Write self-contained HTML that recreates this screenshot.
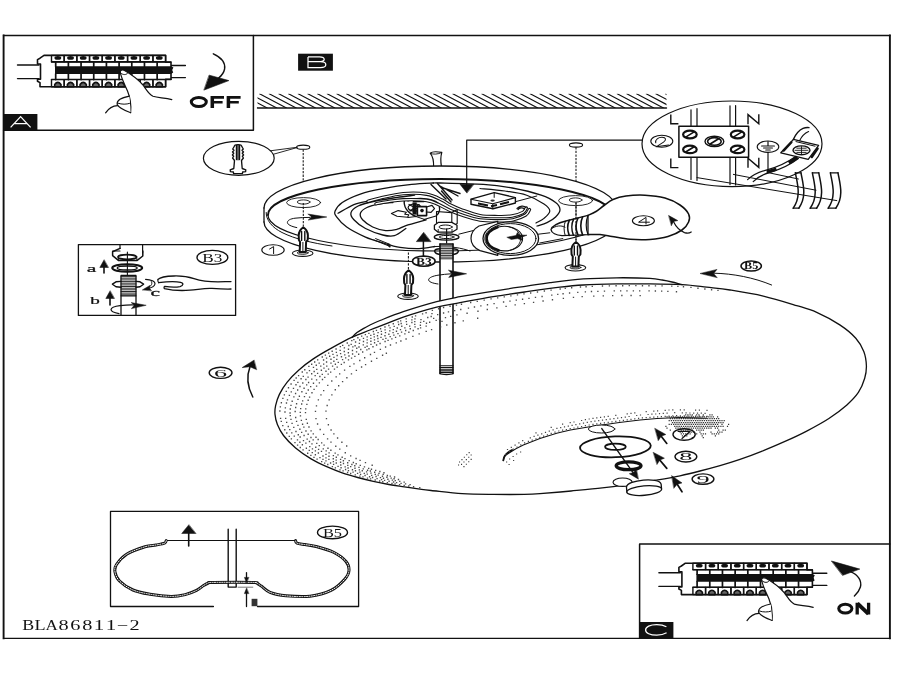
<!DOCTYPE html>
<html><head><meta charset="utf-8"><title>BLA86811-2</title>
<style>
html,body{margin:0;padding:0;background:#fff;}
body{width:900px;height:675px;overflow:hidden;font-family:"Liberation Sans",sans-serif;}
svg{display:block;will-change:transform}
</style></head><body>
<svg width="900" height="675" viewBox="0 0 900 675" fill="none" stroke="#111" stroke-width="1" stroke-linecap="round" stroke-linejoin="round">
<rect x="0" y="0" width="900" height="675" fill="#fff" stroke="none"/>
<defs><g id="brk"><path d="M17.5 65H39M17.5 78.6H39M170 65.5H185.4M170 77.6H185.4" stroke-width="1.4"/><path d="M44 55.4H165.6V62.2H171V79.4H165.6V86.8H40V82.6L37.5 81.2V79.2H40.5V64H37.5V59.6L40 58.2Z" fill="#fff" stroke-width="1.6"/><path d="M55 66.2H171L173.4 67.4L172.2 70L173.2 72.6L171 74H55Z" fill="#111" stroke="none"/><rect x="51.50" y="55.4" width="12.68" height="6.4" stroke-width="1.4"/><ellipse cx="57.84" cy="57.9" rx="3.4" ry="1.9" fill="#111" stroke="none"/><rect x="51.50" y="79.6" width="12.68" height="7.2" stroke-width="1.4"/><path d="M54.70 86.8V84.4Q57.84 80.4 60.98 84.4V86.8Z" fill="#666" stroke="#111" stroke-width="1.6"/><path d="M55.70 62V66.4M55.70 73.8V79.6" stroke-width="1.7"/><rect x="64.18" y="55.4" width="12.68" height="6.4" stroke-width="1.4"/><ellipse cx="70.52" cy="57.9" rx="3.4" ry="1.9" fill="#111" stroke="none"/><rect x="64.18" y="79.6" width="12.68" height="7.2" stroke-width="1.4"/><path d="M67.38 86.8V84.4Q70.52 80.4 73.66 84.4V86.8Z" fill="#666" stroke="#111" stroke-width="1.6"/><path d="M68.38 62V66.4M68.38 73.8V79.6" stroke-width="1.7"/><rect x="76.86" y="55.4" width="12.68" height="6.4" stroke-width="1.4"/><ellipse cx="83.20" cy="57.9" rx="3.4" ry="1.9" fill="#111" stroke="none"/><rect x="76.86" y="79.6" width="12.68" height="7.2" stroke-width="1.4"/><path d="M80.06 86.8V84.4Q83.20 80.4 86.34 84.4V86.8Z" fill="#666" stroke="#111" stroke-width="1.6"/><path d="M81.06 62V66.4M81.06 73.8V79.6" stroke-width="1.7"/><rect x="89.54" y="55.4" width="12.68" height="6.4" stroke-width="1.4"/><ellipse cx="95.88" cy="57.9" rx="3.4" ry="1.9" fill="#111" stroke="none"/><rect x="89.54" y="79.6" width="12.68" height="7.2" stroke-width="1.4"/><path d="M92.74 86.8V84.4Q95.88 80.4 99.02 84.4V86.8Z" fill="#666" stroke="#111" stroke-width="1.6"/><path d="M93.74 62V66.4M93.74 73.8V79.6" stroke-width="1.7"/><rect x="102.22" y="55.4" width="12.68" height="6.4" stroke-width="1.4"/><ellipse cx="108.56" cy="57.9" rx="3.4" ry="1.9" fill="#111" stroke="none"/><rect x="102.22" y="79.6" width="12.68" height="7.2" stroke-width="1.4"/><path d="M105.42 86.8V84.4Q108.56 80.4 111.70 84.4V86.8Z" fill="#666" stroke="#111" stroke-width="1.6"/><path d="M106.42 62V66.4M106.42 73.8V79.6" stroke-width="1.7"/><rect x="114.90" y="55.4" width="12.68" height="6.4" stroke-width="1.4"/><ellipse cx="121.24" cy="57.9" rx="3.4" ry="1.9" fill="#111" stroke="none"/><rect x="114.90" y="79.6" width="12.68" height="7.2" stroke-width="1.4"/><path d="M118.10 86.8V84.4Q121.24 80.4 124.38 84.4V86.8Z" fill="#666" stroke="#111" stroke-width="1.6"/><path d="M119.10 62V66.4M119.10 73.8V79.6" stroke-width="1.7"/><rect x="127.58" y="55.4" width="12.68" height="6.4" stroke-width="1.4"/><ellipse cx="133.92" cy="57.9" rx="3.4" ry="1.9" fill="#111" stroke="none"/><rect x="127.58" y="79.6" width="12.68" height="7.2" stroke-width="1.4"/><path d="M130.78 86.8V84.4Q133.92 80.4 137.06 84.4V86.8Z" fill="#666" stroke="#111" stroke-width="1.6"/><path d="M131.78 62V66.4M131.78 73.8V79.6" stroke-width="1.7"/><rect x="140.26" y="55.4" width="12.68" height="6.4" stroke-width="1.4"/><ellipse cx="146.60" cy="57.9" rx="3.4" ry="1.9" fill="#111" stroke="none"/><rect x="140.26" y="79.6" width="12.68" height="7.2" stroke-width="1.4"/><path d="M143.46 86.8V84.4Q146.60 80.4 149.74 84.4V86.8Z" fill="#666" stroke="#111" stroke-width="1.6"/><path d="M144.46 62V66.4M144.46 73.8V79.6" stroke-width="1.7"/><rect x="152.94" y="55.4" width="12.68" height="6.4" stroke-width="1.4"/><ellipse cx="159.28" cy="57.9" rx="3.4" ry="1.9" fill="#111" stroke="none"/><rect x="152.94" y="79.6" width="12.68" height="7.2" stroke-width="1.4"/><path d="M156.14 86.8V84.4Q159.28 80.4 162.42 84.4V86.8Z" fill="#666" stroke="#111" stroke-width="1.6"/><path d="M157.14 62V66.4M157.14 73.8V79.6" stroke-width="1.7"/><path d="M51.5 62H171M51.5 79.4H171" stroke-width="1.4"/></g><g id="hand" stroke-width="1.2"><path d="M120.2 72.2C120 70 122.5 69.6 124.5 70.4C130 73.5 137 78 143 85C147 90.5 149 94.5 153 96.3C158 98 165 97.6 171.8 99.6L171 104L131 113C131.5 104 130 97 127.5 91C125 85 121.5 79 120.2 72.2Z" fill="#fff" stroke="none"/><path d="M120.2 72.2C120 70 122.5 69.6 124.5 70.4C130 73.5 137 78 143 85C147 90.5 149 94.5 153 96.3C158 98 165 97.6 171.8 99.6"/><path d="M120.2 72.2C121.5 79 125 85 127.5 91C130 97 131.5 104 130.6 112.6"/><path d="M121 73.2C123 75.2 126.5 75 127.6 73.2" stroke-width="1"/><path d="M130.6 112.6C125 110.5 119 108.5 117.2 104.5C116.5 100.5 121 97.8 129.4 96.2" fill="#fff"/><path d="M118 103.2C122 104.6 126.5 104.4 129.5 103.4" stroke-width="1"/><path d="M117.6 105.6C113 105.8 108.5 108.5 105.6 112.8"/></g></defs>
<path d="M3.6 35.5H889.9M3.6 638.3H889.9" stroke-width="1.35" stroke-linecap="square"/><path d="M3.6 35.5V638.3M889.9 35.5V638.3" stroke-width="1.9" stroke-linecap="square"/>
<path d="M3.6 130.2H253.4V35.5" stroke-width="1.5"/>
<rect x="3.6" y="114" width="33.8" height="16.2" fill="#111" stroke="none"/>
<path d="M10.6 127.4L20.6 116.6L30.6 127.4M14.4 123.5H26.8" stroke="#fff" stroke-width="1.25" stroke-linecap="butt" stroke-linejoin="miter"/>
<use href="#brk"/><use href="#hand"/>
<path d="M213.3 53.8C221.5 57.5 225.6 63 224.6 69C223.8 73 221.5 75.8 218.6 78" stroke-width="1.4"/>
<path d="M209.4 75.2L228.9 80.6L204.2 90Z" fill="#111" stroke="#111" stroke-width="0.6"/>
<g stroke-linecap="butt" stroke-linejoin="miter"><ellipse cx="198.8" cy="101.95" rx="7.5" ry="4.55" stroke-width="3"/><path d="M212.3 107.9V96.1M228.4 107.9V96.1" stroke-width="3.5"/><path d="M212.3 97.4H224M228.4 97.4H240.6" stroke-width="2.6"/><path d="M212.3 102.2H222.6M228.4 102.2H238.8" stroke-width="2.5"/></g>
<path d="M639.6 638.3V543.9H889.9" stroke-width="1.5"/>
<rect x="639.6" y="622" width="33.8" height="16.3" fill="#111" stroke="none"/>
<path d="M666.4 626.8C663.6 625.2 660.4 624.6 656.8 624.6C650 624.6 645.6 626.8 645.6 629.9C645.6 633 650 635.2 656.8 635.2C660.6 635.2 663.8 634.5 666.6 632.8" stroke="#fff" stroke-width="1.25" stroke-linecap="butt"/>
<g transform="translate(641.4 507.8)"><use href="#brk"/><use href="#hand"/></g>
<path d="M850.5 571.6C858.5 575 862 581 860.4 587C859.4 590.6 857 593.6 854.4 596" stroke-width="1.4"/>
<path d="M831.7 561.1L859.8 569.1L842.8 575.3Z" fill="#111" stroke="#111" stroke-width="0.6"/>
<g stroke-linecap="butt" stroke-linejoin="miter"><ellipse cx="845.3" cy="608.6" rx="6.6" ry="4.45" stroke-width="3"/><path d="M857.2 614.5V602.8M868.6 614.5V602.8" stroke-width="3.3"/><path d="M857.4 603.4L868.4 613.9" stroke-width="4"/></g>
<rect x="298.1" y="53.7" width="34.8" height="17" fill="#111" stroke="none"/>
<path d="M308 56.9V67.5H320.4C327.6 67.5 327.6 61.8 320.4 61.7H308M320.4 61.7C325.6 61.5 325.6 56.9 319.6 56.9H308" stroke="#fff" stroke-width="1.25" stroke-linecap="butt" stroke-linejoin="miter"/>
<g stroke-width="1.15"><path d="M257.5 108H666.5" stroke-width="1.35"/><clipPath id="hc"><rect x="257.5" y="93.8" width="409" height="14.2"/></clipPath><g clip-path="url(#hc)"><path d="M230.5 93.8L257.5 108M240.2 93.8L267.2 108M249.8 93.8L276.8 108M259.5 93.8L286.5 108M269.2 93.8L296.2 108M278.8 93.8L305.8 108M288.5 93.8L315.5 108M298.2 93.8L325.2 108M307.8 93.8L334.8 108M317.5 93.8L344.5 108M327.2 93.8L354.2 108M336.8 93.8L363.8 108M346.5 93.8L373.5 108M356.2 93.8L383.2 108M365.8 93.8L392.8 108M375.5 93.8L402.5 108M385.2 93.8L412.2 108M394.8 93.8L421.8 108M404.5 93.8L431.5 108M414.2 93.8L441.2 108M423.8 93.8L450.8 108M433.5 93.8L460.5 108M443.2 93.8L470.2 108M452.8 93.8L479.8 108M462.5 93.8L489.5 108M472.2 93.8L499.2 108M481.8 93.8L508.8 108M491.5 93.8L518.5 108M501.2 93.8L528.2 108M510.8 93.8L537.8 108M520.5 93.8L547.5 108M530.2 93.8L557.2 108M539.8 93.8L566.8 108M549.5 93.8L576.5 108M559.2 93.8L586.2 108M568.8 93.8L595.8 108M578.5 93.8L605.5 108M588.2 93.8L615.2 108M597.8 93.8L624.8 108M607.5 93.8L634.5 108M617.2 93.8L644.2 108M626.8 93.8L653.8 108M636.5 93.8L663.5 108M646.2 93.8L673.2 108M655.8 93.8L682.8 108M665.5 93.8L692.5 108"/></g></g>
<text transform="translate(28.11 630) scale(1.28 1)" x="0" y="0" font-family="Liberation Serif" font-size="14" fill="#111" stroke="none" text-anchor="middle">B</text>
<text transform="translate(39.95 630) scale(1.30 1)" x="0" y="0" font-family="Liberation Serif" font-size="14" fill="#111" stroke="none" text-anchor="middle">L</text>
<text transform="translate(51.77 630) scale(1.22 1)" x="0" y="0" font-family="Liberation Serif" font-size="14" fill="#111" stroke="none" text-anchor="middle">A</text>
<text transform="translate(63.61 630) scale(1.45 1)" x="0" y="0" font-family="Liberation Serif" font-size="14" fill="#111" stroke="none" text-anchor="middle">8</text>
<text transform="translate(75.44 630) scale(1.45 1)" x="0" y="0" font-family="Liberation Serif" font-size="14" fill="#111" stroke="none" text-anchor="middle">6</text>
<text transform="translate(87.27 630) scale(1.45 1)" x="0" y="0" font-family="Liberation Serif" font-size="14" fill="#111" stroke="none" text-anchor="middle">8</text>
<text transform="translate(99.09 630) scale(1.50 1)" x="0" y="0" font-family="Liberation Serif" font-size="14" fill="#111" stroke="none" text-anchor="middle">1</text>
<text transform="translate(110.92 630) scale(1.50 1)" x="0" y="0" font-family="Liberation Serif" font-size="14" fill="#111" stroke="none" text-anchor="middle">1</text>
<text transform="translate(122.76 630) scale(1.45 1)" x="0" y="0" font-family="Liberation Serif" font-size="14" fill="#111" stroke="none" text-anchor="middle">−</text>
<text transform="translate(134.59 630) scale(1.45 1)" x="0" y="0" font-family="Liberation Serif" font-size="14" fill="#111" stroke="none" text-anchor="middle">2</text>
<ellipse cx="238.8" cy="158.3" rx="35.4" ry="17" stroke-width="1.2"/>
<path d="M270.3 150.8L297 147.3M273.6 154.2L297 147.6" stroke-width="0.9"/>
<g stroke-width="1.35"><path d="M234.2 146.5C234.5 144 241.5 144 241.8 146.5L243.3 149L242 150.2L243.5 152L242.2 153.2L243.6 155L242.3 156.2L243.4 158L241.5 160.5L242.2 168.5L245.8 169.8L245.6 171.6L242.6 172L242.4 173.6H233.6L233.4 172L230.4 171.6L230.2 169.8L233.8 168.5L234.5 160.5L232.6 158L233.7 156.2L232.4 155L233.8 153.2L232.5 152L234 150.2L232.7 149Z" fill="#fff"/><path d="M236.6 145.5V159.5M239.4 145.5V159.5" stroke-width="1.6"/><path d="M238 145V160" stroke-width="1"/></g>
<ellipse cx="303.2" cy="147.2" rx="6.6" ry="2.1" stroke-width="1.1"/>
<path d="M303.2 149.4V181.0" stroke-width="1.05" stroke-dasharray="2.3 1.3" stroke-linecap="butt"/>
<ellipse cx="576.0" cy="145.0" rx="6.6" ry="2.1" stroke-width="1.1"/>
<path d="M576.0 147.2V181.0" stroke-width="1.05" stroke-dasharray="2.3 1.3" stroke-linecap="butt"/>
<path d="M433.6 167C433.8 161 433 156.5 430.2 153.2C432 151.6 436.5 151.4 441.8 152.4C440.6 156.5 440.6 161.5 441.4 166.4" fill="#fff" stroke-width="1.2"/>
<path d="M430.4 153.4C433 154.6 438 154.4 441.6 152.6" stroke-width="0.9"/>
<path d="M264 208A176 42 0 0 1 616 208L616 222A176 40 0 0 1 264 222Z" fill="#fff" stroke="none"/>
<path d="M264 208A176 42 0 0 1 616 208" stroke-width="1.3"/>
<path d="M264 208V222" stroke-width="1.3"/>
<path d="M264 222A176 40 0 0 0 616 222" stroke-width="1.3"/>
<path d="M266.2 212.5C266 220 272 227.5 282 232.5C295 239 312 243 332 246" stroke-width="1"/>
<path d="M268 215A172 36 0 0 1 612 215" stroke-width="1.9"/>
<path d="M268 215A172 36 0 0 0 612 215" stroke-width="1.1"/>
<ellipse cx="303.6" cy="202.6" rx="17" ry="5" fill="#fff" stroke-width="0.9"/>
<ellipse cx="303.6" cy="202.0" rx="6.4" ry="2.1" stroke-width="0.9"/>
<ellipse cx="575.6" cy="200.6" rx="17" ry="5" fill="#fff" stroke-width="0.9"/>
<ellipse cx="575.6" cy="200.0" rx="6.4" ry="2.1" stroke-width="0.9"/>
<path d="M433.4 183.0 C429.8 183.2 420.1 183.5 411.7 184.4 C403.3 185.3 391.2 187.1 382.8 188.7 C374.4 190.3 367.8 191.5 361.0 193.8 C354.2 196.1 346.6 199.6 342.3 202.5 C338.0 205.4 336.1 208.7 335.1 211.1 C334.2 213.5 334.7 214.2 336.6 216.9 C338.5 219.6 341.9 223.6 346.7 227.0 C351.5 230.4 359.5 234.4 365.5 237.1 C371.5 239.8 377.1 241.2 382.8 242.9 C388.6 244.6 394.0 246.3 400.0 247.3 C406.0 248.3 413.2 248.8 419.0 248.7 C424.8 248.6 432.2 246.9 434.8 246.5" stroke-width="1.3"/>
<path d="M433.4 183.0 C434.5 183.0 431.7 182.8 440.0 183.0 C448.3 183.2 471.3 183.6 483.4 184.4 C495.4 185.2 502.7 186.2 512.3 188.0 C521.9 189.8 534.0 192.8 541.2 195.2 C548.4 197.6 552.5 200.1 555.6 202.5 C558.7 204.9 560.0 207.3 560.0 209.7 C560.0 212.1 557.8 214.8 555.6 217.0 C553.4 219.2 550.1 221.2 547.0 222.7 C543.9 224.2 538.7 225.4 537.0 226.0" stroke-width="1.3"/>
<path d="M368.0 201.0 C365.6 201.6 358.9 202.5 353.9 204.6 C348.9 206.7 340.6 211.9 338.0 213.3" stroke-width="1.2"/>
<path d="M414.6 195.2 C411.7 195.6 403.8 196.4 397.3 197.4 C390.8 198.4 382.1 199.6 375.6 201.0 C369.1 202.4 362.3 204.1 358.2 206.0 C354.1 207.9 351.7 210.3 351.0 212.6 C350.3 214.9 351.5 217.2 353.9 219.8 C356.3 222.5 360.7 226.0 365.5 228.5 C370.3 231.0 378.0 233.8 382.8 235.0 C387.6 236.2 390.5 236.8 394.4 235.7 C398.2 234.6 404.0 229.7 405.9 228.5" stroke-width="1.3"/>
<path d="M392.9 202.5 C390.7 202.7 384.2 203.1 379.9 203.9 C375.6 204.7 370.1 205.9 366.9 207.5 C363.6 209.1 361.1 211.2 360.4 213.3 C359.7 215.4 360.6 217.5 362.6 219.8 C364.7 222.1 368.9 225.2 372.7 227.0 C376.5 228.8 381.6 230.2 385.7 230.6 C389.8 231.0 393.9 230.0 397.3 229.2 C400.7 228.4 401.1 227.2 405.9 225.6 C410.7 224.0 422.8 220.8 426.2 219.8" stroke-width="1.3"/>
<path d="M480.0 188.5 C484.2 188.9 497.2 189.9 505.0 191.0 C512.8 192.1 520.2 193.0 526.7 195.2 C533.2 197.4 540.1 201.4 544.0 204.0 C547.9 206.6 549.8 208.6 549.8 211.0 C549.8 213.4 546.3 216.4 544.0 218.4 C541.7 220.4 537.3 222.2 536.0 223.0" stroke-width="1.2"/>
<path d="M374 240L388.4 245.8M375.6 238.6L390 244.4" stroke-width="1"/><path d="M388 244.4L389.8 246.6" stroke-width="1.8"/>
<path d="M434.8 246.5C450 246 462 248 470 251" stroke-width="1"/>
<g stroke-width="1.1"><path d="M391.4 213.6L398.2 210.6L406.4 212.2L404.8 214.2L408.8 214.8L407.6 217.2L397 216.2Z" fill="#fff"/><path d="M404.5 199.5C403 206 407 213 416 216.5" stroke-width="1.4"/><path d="M408 201C416 197 432 198 438 203C441 207 440 213 436 216L424 219.5" stroke-width="1.3"/><ellipse cx="414.6" cy="207.6" rx="6.5" ry="3.6" stroke-width="1.2"/><path d="M409 204.5L420 210.5M410 211L419 204.5" stroke-width="1.2"/><path d="M414.6 202.4V214.6" stroke-width="4.2" stroke-linecap="butt"/><rect x="417.4" y="206.6" width="9.2" height="9" fill="#fff" stroke-width="1.6"/><circle cx="422" cy="210.6" r="1.8" fill="#111" stroke="none"/><path d="M426.4 207L432 205.4L434.5 208.6L431 212.4L426.4 212" stroke-width="1.2"/><path d="M413.5 199.2H417M420 199.2H424M413.5 201.4H424" stroke-width="1.6"/><path d="M408 217.5L416 216.5L425 219.6" stroke-width="1"/></g>
<g><path d="M376.0 203.8 C378.0 203.4 383.4 202.3 388.0 201.6 C392.6 200.9 396.9 200.0 403.3 199.8 C409.8 199.6 420.9 199.7 426.7 200.5 C432.5 201.3 434.4 202.8 438.3 204.4 C442.2 206.1 445.9 208.6 450.0 210.4 C454.1 212.2 458.0 213.8 463.0 215.4 C468.0 217.0 474.2 219.1 480.0 220.0 C485.8 220.9 492.5 220.8 498.0 220.8 C503.5 220.8 508.4 220.8 513.0 219.8 C517.6 218.8 522.9 216.7 525.6 215.0 C528.3 213.3 528.8 210.5 529.4 209.6" stroke="#111" stroke-width="3.4"/><path d="M376.0 203.8 C378.0 203.4 383.4 202.3 388.0 201.6 C392.6 200.9 396.9 200.0 403.3 199.8 C409.8 199.6 420.9 199.7 426.7 200.5 C432.5 201.3 434.4 202.8 438.3 204.4 C442.2 206.1 445.9 208.6 450.0 210.4 C454.1 212.2 458.0 213.8 463.0 215.4 C468.0 217.0 474.2 219.1 480.0 220.0 C485.8 220.9 492.5 220.8 498.0 220.8 C503.5 220.8 508.4 220.8 513.0 219.8 C517.6 218.8 522.9 216.7 525.6 215.0 C528.3 213.3 528.8 210.5 529.4 209.6" stroke="#fff" stroke-width="1.3"/><path d="M368.0 201.4 C370.0 200.8 374.0 199.4 379.9 198.1 C385.8 196.8 395.5 194.2 403.3 193.6 C411.1 192.9 420.2 193.1 426.7 194.2 C433.2 195.3 438.3 198.3 442.2 200.1 C446.1 201.9 446.7 203.2 450.0 204.8 C453.3 206.5 457.0 208.2 462.0 210.0 C467.0 211.8 474.0 214.5 480.0 215.6 C486.0 216.7 492.7 216.5 498.0 216.6 C503.3 216.7 507.8 216.7 512.0 216.0 C516.2 215.3 520.6 213.7 523.0 212.4 C525.4 211.1 525.7 208.7 526.2 208.0" stroke="#111" stroke-width="3.4"/><path d="M368.0 201.4 C370.0 200.8 374.0 199.4 379.9 198.1 C385.8 196.8 395.5 194.2 403.3 193.6 C411.1 192.9 420.2 193.1 426.7 194.2 C433.2 195.3 438.3 198.3 442.2 200.1 C446.1 201.9 446.7 203.2 450.0 204.8 C453.3 206.5 457.0 208.2 462.0 210.0 C467.0 211.8 474.0 214.5 480.0 215.6 C486.0 216.7 492.7 216.5 498.0 216.6 C503.3 216.7 507.8 216.7 512.0 216.0 C516.2 215.3 520.6 213.7 523.0 212.4 C525.4 211.1 525.7 208.7 526.2 208.0" stroke="#fff" stroke-width="1.3"/><path d="M526 207.5C524 205.5 520 205.5 517 208.5M524.6 209C522.5 207.2 519.5 207.6 518 209.6" stroke-width="1.2"/><path d="M431 184.5L446 199M437.5 183.5L452 200M440 186L458 196M443 188L460 193.5M441.5 191L451 202" stroke-width="1.4"/></g>
<g stroke-width="1.2"><path d="M471 199.2L494.2 192.6L515.4 197.6V203L493 208.8L471 204.2Z" fill="#fff" stroke-width="1.4"/><path d="M471 199.2L492.8 203.8L515.4 197.6M492.8 203.8V208.6" stroke-width="1.1"/><path d="M494.2 192.6V197.4" stroke-width="1"/><path d="M478 203.4L488 205.6M491 206.2L497 205M500 204.2L509 202" stroke-width="2" stroke-linecap="butt"/><ellipse cx="492.6" cy="200.6" rx="2.2" ry="1.1" fill="#333" stroke="none"/><path d="M515.4 201.7L536.8 196" stroke-width="1"/></g>
<path d="M642.5 140.2H466.7V186" stroke-width="1.2"/>
<path d="M466.7 192.8L460 184.2H473.6Z" fill="#111" stroke="#111" stroke-width="0.6"/>
<g stroke-width="1.2"><path d="M497.8 221.4L479 226C473.5 229 471 233.5 471 238.6C471 243.5 474 248 480 250.6L497.8 255.4Z" fill="#fff"/><ellipse cx="510.8" cy="238.6" rx="27.8" ry="16.8" fill="#fff" stroke-width="1.3"/><ellipse cx="510.4" cy="238.6" rx="25.6" ry="15" stroke-width="1"/><ellipse cx="504.6" cy="238.6" rx="18" ry="12.3" stroke-width="1.1"/><path d="M497.5 227.3C489.5 230 486.6 235 486.6 238.8C486.8 243.5 490.5 248 498.5 250.2" stroke-width="2.6"/><path d="M509 226.8C517.5 229 521 234 520.6 239.5C520 244.5 516 248.6 510 250.4" stroke-width="0.9"/><path d="M538.3 234.2L549.8 232.8M539.7 243L562.8 238.6" stroke-width="1"/><path d="M458.8 234.2L473 230.6" stroke-width="1"/><path d="M507.2 237.2L516 235.4L517.4 232.4L519.4 235L527 235.2L521 237.4L522.4 240.4L517.6 238.6L511.4 239.4Z" fill="#111" stroke="#111" stroke-width="0.5"/></g>
<g stroke-width="1.2"><path d="M436.5 211.5V222.5M436.5 211.5L451.6 212.6L457.2 209.6V223.5L451.8 226.4V212.6" stroke-width="1.1"/><path d="M434.4 225.2L438.2 222.4H451.8L457 225.2V229.2L452 232.2H438.2L434.4 229.2Z" fill="#fff" stroke-width="1.3"/><ellipse cx="445.6" cy="227" rx="6.6" ry="2" stroke-width="1"/><path d="M438.2 229.4V232M452 229.4V232" stroke-width="0.9"/><ellipse cx="446.6" cy="237" rx="12.4" ry="3.1" fill="#fff" stroke-width="1.4"/><ellipse cx="446.6" cy="237" rx="7.4" ry="1.6" stroke-width="1"/><path d="M446.6 229V243" stroke-width="1.2"/></g>
<path d="M423.4 256V240" stroke-width="1.5"/>
<path d="M423.5 232.6L416.4 241.6H430.6Z" fill="#111" stroke="#111" stroke-width="0.6"/>
<ellipse cx="423.8" cy="261.2" rx="11.3" ry="5.1" fill="#fff" stroke="#111" stroke-width="1.6"/><text transform="translate(423.80 264.60) scale(1.350 1)" font-family="Liberation Serif" font-size="10.0" font-weight="bold" fill="#111" stroke="none" text-anchor="middle">B3</text>
<path d="M408.4 252.5V270.0" stroke-width="1.05" stroke-dasharray="2.3 1.3" stroke-linecap="butt"/>
<path d="M296.8 227.6C291 226.4 287.4 224.6 287.4 222.4C287.6 220.2 290.5 218.8 295 218.2C300 217.6 305 217.4 310 217.4" stroke-width="1"/>
<path d="M308.2 214.1L326.8 217L308.2 220.1L311.4 217Z" fill="#111" stroke="#111" stroke-width="0.5"/>
<path d="M303.3 203.0V226.5" stroke-width="1.05" stroke-dasharray="2.3 1.3" stroke-linecap="butt"/>
<path d="M576.0 202.0V241.5" stroke-width="1.05" stroke-dasharray="2.3 1.3" stroke-linecap="butt"/>
<g stroke-width="1"><ellipse cx="302.7" cy="253.2" rx="10.3" ry="3.2" fill="#fff" stroke-width="1.1"/><ellipse cx="302.7" cy="252.8" rx="5.6" ry="1.6" fill="#bbb" stroke-width="0.8"/><path d="M303.3 227.4C300.7 229.0 298.9 231.9 298.7 235.4L298.9 239.9L300.1 241.9L299.7 252.0L305.7 252.0L306.1 241.9L307.7 239.9L307.9 235.4C307.7 231.9 305.9 229.0 303.3 227.4Z" fill="#fff" stroke-width="2"/><path d="M301.6 231.4V240.4M304.8 231.4V240.4" stroke-width="1.4"/><path d="M302.9 242.4V251.4" stroke-width="1"/></g>
<g stroke-width="1"><ellipse cx="408.0" cy="296.2" rx="10.3" ry="3.2" fill="#fff" stroke-width="1.1"/><ellipse cx="408.0" cy="295.8" rx="5.6" ry="1.6" fill="#bbb" stroke-width="0.8"/><path d="M408.6 270.4C406.0 272.0 404.2 274.9 404.0 278.4L404.2 282.9L405.4 284.9L405.0 295.0L411.0 295.0L411.4 284.9L413.0 282.9L413.2 278.4C413.0 274.9 411.2 272.0 408.6 270.4Z" fill="#fff" stroke-width="2"/><path d="M406.9 274.4V283.4M410.1 274.4V283.4" stroke-width="1.4"/><path d="M408.2 285.4V294.4" stroke-width="1"/></g>
<g stroke-width="1"><ellipse cx="575.4" cy="267.8" rx="10.3" ry="3.2" fill="#fff" stroke-width="1.1"/><ellipse cx="575.4" cy="267.4" rx="5.6" ry="1.6" fill="#bbb" stroke-width="0.8"/><path d="M576.0 242.0C573.4 243.6 571.6 246.5 571.4 250.0L571.6 254.5L572.8 256.5L572.4 266.6L578.4 266.6L578.8 256.5L580.4 254.5L580.6 250.0C580.4 246.5 578.6 243.6 576.0 242.0Z" fill="#fff" stroke-width="2"/><path d="M574.3 246.0V255.0M577.5 246.0V255.0" stroke-width="1.4"/><path d="M575.6 257.0V266.0" stroke-width="1"/></g>
<ellipse cx="273.0" cy="250.0" rx="11.2" ry="5.3" fill="#fff" stroke="#111" stroke-width="1.1"/>
<path d="M269.6 249L273.6 246.6V253.6" stroke-width="1"/>
<path d="M275.0 414.4 C274.7 411.2 274.9 408.9 275.6 405.6 C276.3 402.3 277.5 398.3 279.4 394.4 C281.3 390.5 283.9 386.3 287.2 382.2 C290.4 378.1 294.5 373.9 298.9 370.0 C303.2 366.1 308.1 362.4 313.3 358.9 C318.5 355.4 323.5 352.5 330.0 348.9 C336.5 345.3 345.5 340.3 352.2 337.2 C358.9 334.1 365.4 331.9 370.0 330.0 C374.6 328.1 374.4 328.2 380.0 326.1 C385.6 324.0 393.9 320.4 403.3 317.2 C412.8 314.0 427.2 309.6 436.7 307.2 C446.1 304.8 450.6 304.4 460.0 302.6 C469.4 300.9 482.2 298.5 493.3 296.7 C504.4 294.9 515.6 293.3 526.7 291.7 C537.8 290.1 550.6 288.3 560.0 287.2 C569.4 286.1 573.8 285.6 583.3 285.0 C592.8 284.4 605.6 284.1 616.7 283.9 C627.8 283.7 639.1 283.8 650.0 283.9 C660.9 284.0 672.8 284.1 682.2 284.7 C691.7 285.2 698.7 286.3 706.7 287.2 C714.7 288.1 720.6 288.5 730.0 290.0 C739.4 291.5 752.2 293.5 763.3 296.1 C774.4 298.7 787.8 302.9 796.7 305.6 C805.6 308.3 809.5 309.2 816.7 312.4 C823.9 315.6 833.3 320.6 839.8 324.9 C846.3 329.2 851.8 333.8 855.8 338.2 C859.8 342.6 862.0 347.0 863.8 351.6 C865.6 356.2 866.2 361.4 866.4 365.8 C866.5 370.2 866.0 373.8 864.7 378.2 C863.4 382.6 861.4 387.9 858.4 392.4 C855.4 396.8 851.8 400.5 846.9 404.9 C842.0 409.2 835.6 414.1 828.9 418.5 C822.2 422.9 814.1 427.2 806.7 431.1 C799.3 435.0 791.8 438.4 784.4 441.7 C777.0 445.0 769.6 448.2 762.2 451.1 C754.8 454.1 747.0 457.0 740.0 459.4 C733.0 461.8 726.7 463.7 720.0 465.6 C713.3 467.5 706.7 469.3 700.0 471.0 C693.3 472.7 685.9 474.5 680.0 475.8 C674.1 477.1 673.7 477.3 664.4 478.9 C655.1 480.4 634.4 483.6 624.0 485.1 C613.6 486.6 611.0 486.9 602.2 487.9 C593.4 488.9 581.5 490.0 571.1 491.0 C560.7 492.0 547.8 493.1 540.0 493.7 C532.2 494.3 532.2 494.3 524.4 494.4 C516.6 494.5 503.7 494.5 493.3 494.4 C482.9 494.3 472.6 494.3 462.2 493.7 C451.8 493.1 438.1 491.2 431.1 490.5 C424.1 489.8 424.4 489.8 420.0 489.2 C415.6 488.6 409.6 487.7 404.4 486.9 C399.2 486.1 394.1 485.4 388.9 484.5 C383.7 483.6 378.5 482.6 373.3 481.4 C368.1 480.2 363.0 478.9 357.8 477.5 C352.6 476.1 347.4 474.7 342.2 472.9 C337.0 471.1 331.9 469.0 326.7 466.7 C321.5 464.4 316.3 462.0 311.1 458.9 C305.9 455.8 300.2 451.9 295.6 448.0 C291.0 444.1 286.5 439.4 283.5 435.5 C280.5 431.6 278.8 428.1 277.4 424.6 C276.0 421.1 275.3 417.6 275.0 414.4Z" fill="#fff" stroke="none"/>
<g stroke-width="1.2"><rect x="440" y="244" width="13" height="129.6" fill="#fff" stroke="none"/><path d="M440 244V373.6M453 244V373.6" stroke-width="1.6"/><path d="M440 244H453" stroke-width="1.3"/><path d="M440 245.2H453" stroke-width="0.9"/><path d="M440 246.9H453" stroke-width="0.9"/><path d="M440 248.6H453" stroke-width="0.9"/><path d="M440 250.3H453" stroke-width="0.9"/><path d="M440 252.0H453" stroke-width="0.9"/><path d="M440 253.7H453" stroke-width="0.9"/><path d="M440 255.4H453" stroke-width="0.9"/><path d="M440 257.1H453" stroke-width="0.9"/><path d="M440 258.8H453" stroke-width="0.9"/><path d="M434.6 251.2C434.8 249.4 437.4 248.8 440 248.8M453 248.8C455.8 248.8 458 249.6 458.4 251.2C458 253.2 455.6 254.2 453 254.4M440 254.4C437.2 254.2 435 253.2 434.6 251.2" stroke-width="1.5"/><path d="M440 365.8H453" stroke-width="1.1"/><path d="M440 367.5H453" stroke-width="1.1"/><path d="M440 369.2H453" stroke-width="1.1"/><path d="M440 370.9H453" stroke-width="1.1"/><path d="M440 372.6H453" stroke-width="1.1"/><path d="M440 373.6C442 375 451 375 453 373.6" stroke-width="1.2"/></g>
<path d="M279.2 411.0h1.35M279.7 406.8h1.35M280.7 402.7h1.35M282.2 398.3h1.35M283.7 394.8h1.35M285.6 391.3h1.35M287.8 387.7h1.35M290.4 384.0h1.35M293.4 380.4h1.35M295.5 378.0h1.35M297.9 375.6h1.35M301.6 372.0h1.35M304.1 369.7h1.35M308.2 366.4h1.35M311.0 364.2h1.35M314.0 362.0h1.35M317.0 359.9h1.35M321.6 357.0h1.35M324.7 355.1h1.35M328.0 353.1h1.35M331.5 351.2h1.35M335.4 349.0h1.35M339.7 346.6h1.35M342.0 345.4h1.35M346.6 343.0h1.35M351.1 340.6h1.35M353.2 339.6h1.35M357.2 337.7h1.35M361.0 336.1h1.35M364.7 334.6h1.35M368.2 333.3h1.35M372.7 331.5h1.35M375.8 330.3h1.35M379.9 328.7h1.35M384.3 327.0h1.35M388.2 325.5h1.35M392.6 323.7h1.35M397.5 321.8h1.35M400.0 320.8h1.35M405.5 318.9h1.35M411.6 317.0h1.35M414.9 315.9h1.35M421.9 313.8h1.35M425.4 312.7h1.35M431.7 310.4h1.35M437.9 308.7h1.35M442.9 307.5h1.35M449.4 306.2h1.35M455.8 305.1h1.35M460.8 304.2h1.35M470.0 302.5h1.35M476.6 301.3h1.35M483.5 300.1h1.35M490.4 298.9h1.35M497.0 297.8h1.35M503.6 296.8h1.35M510.2 295.8h1.35M516.8 294.9h1.35M523.3 293.9h1.35M530.0 293.0h1.35M536.8 292.0h1.35M543.7 291.0h1.35M550.4 290.1h1.35M559.5 289.0h1.35M564.6 288.4h1.35M571.0 287.7h1.35M579.8 287.0h1.35M585.4 286.7h1.35M591.6 286.4h1.35M601.8 286.0h1.35M608.7 285.9h1.35M615.4 285.7h1.35M622.0 285.7h1.35M628.6 285.6h1.35M635.2 285.6h1.35M641.8 285.7h1.35M648.3 285.7h1.35M654.8 285.8h1.35M661.4 285.9h1.35M671.1 286.1h1.35M677.2 286.4h1.35M682.8 286.7h1.35M690.3 287.4h1.35M697.3 288.2h1.35M704.2 289.0h1.35M710.9 289.7h1.35M717.3 290.4h1.35M419.1 487.6h1.35M412.9 486.7h1.35M408.1 486.0h1.35M403.5 485.3h1.35M398.9 484.6h1.35M394.4 483.9h1.35M391.3 483.4h1.35M386.7 482.6h1.35M382.1 481.7h1.35M379.0 481.0h1.35M374.5 480.0h1.35M369.9 478.9h1.35M366.8 478.1h1.35M362.3 476.9h1.35M359.2 476.1h1.35M354.6 474.8h1.35M350.0 473.5h1.35M346.9 472.5h1.35M342.4 470.9h1.35M339.3 469.8h1.35M334.7 467.9h1.35M331.7 466.6h1.35M327.1 464.5h1.35M324.0 463.1h1.35M321.0 461.6h1.35M316.4 459.1h1.35M313.3 457.3h1.35M310.2 455.3h1.35M307.0 453.2h1.35M302.4 449.8h1.35M299.6 447.5h1.35M296.9 445.1h1.35M294.3 442.6h1.35M290.7 438.9h1.35M288.6 436.4h1.35M286.1 433.0h1.35M284.1 429.7h1.35M282.1 425.6h1.35M280.6 421.4h1.35M279.9 418.4h1.35M284.3 412.0h1.35M284.7 407.9h1.35M285.8 403.0h1.35M286.8 399.8h1.35M288.7 395.3h1.35M290.6 391.8h1.35M292.8 388.3h1.35M295.3 384.7h1.35M297.2 382.3h1.35M300.4 378.7h1.35M302.6 376.3h1.35M306.3 372.8h1.35M308.8 370.6h1.35M312.8 367.3h1.35M315.6 365.2h1.35M318.5 363.1h1.35M322.9 360.0h1.35M325.9 358.1h1.35M329.0 356.2h1.35M332.3 354.3h1.35M335.7 352.4h1.35M339.5 350.3h1.35M343.7 347.9h1.35M348.2 345.5h1.35M350.5 344.3h1.35M354.9 342.0h1.35M359.0 340.0h1.35M362.8 338.3h1.35M366.5 336.8h1.35M370.1 335.4h1.35M373.3 334.2h1.35M377.4 332.6h1.35M380.7 331.3h1.35M384.4 329.9h1.35M389.4 327.9h1.35M393.5 326.3h1.35M398.0 324.5h1.35M400.5 323.5h1.35M405.7 321.6h1.35M411.2 319.8h1.35M414.3 318.8h1.35M431.3 313.6h1.35M409.4 484.6h1.35M404.9 483.9h1.35M400.4 483.3h1.35M395.9 482.6h1.35M392.9 482.0h1.35M388.4 481.2h1.35M383.9 480.3h1.35M380.9 479.6h1.35M376.4 478.6h1.35M371.9 477.5h1.35M368.9 476.7h1.35M364.4 475.5h1.35M359.9 474.3h1.35M356.9 473.4h1.35M352.4 472.1h1.35M347.8 470.6h1.35M344.9 469.5h1.35M340.4 467.7h1.35M337.4 466.4h1.35M332.9 464.4h1.35M329.9 463.0h1.35M325.3 460.9h1.35M322.3 459.3h1.35M319.3 457.6h1.35M314.7 454.7h1.35M311.6 452.6h1.35M308.6 450.4h1.35M305.7 448.2h1.35M301.7 444.7h1.35M299.2 442.2h1.35M296.8 439.8h1.35M293.6 436.1h1.35M291.1 432.8h1.35M289.1 429.6h1.35M287.6 426.5h1.35M286.0 422.4h1.35M285.0 418.4h1.35M289.4 413.0h1.35M289.6 409.0h1.35M290.3 405.4h1.35M291.5 401.2h1.35M293.2 396.8h1.35M294.9 393.5h1.35M297.0 390.0h1.35M299.3 386.5h1.35M302.1 383.0h1.35M305.2 379.5h1.35M307.4 377.1h1.35M311.0 373.7h1.35M313.5 371.5h1.35M316.1 369.3h1.35M320.1 366.1h1.35M323.0 364.1h1.35M325.9 362.0h1.35M330.3 359.2h1.35M333.3 357.3h1.35M336.5 355.5h1.35M339.9 353.6h1.35M343.6 351.5h1.35M347.8 349.2h1.35M352.2 346.8h1.35M354.4 345.7h1.35M358.7 343.4h1.35M362.8 341.5h1.35M366.5 339.8h1.35M370.2 338.3h1.35M373.6 336.9h1.35M376.8 335.7h1.35M380.8 334.2h1.35M384.8 332.6h1.35M389.1 330.9h1.35M392.6 329.6h1.35M396.6 328.0h1.35M401.1 326.2h1.35M406.0 324.3h1.35M411.2 322.5h1.35M414.1 321.6h1.35M420.3 319.6h1.35M427.1 317.5h1.35M430.5 316.5h1.35M437.0 314.6h1.35M442.9 313.0h1.35M447.8 311.8h1.35M454.0 310.6h1.35M460.1 309.5h1.35M467.8 308.1h1.35M473.8 307.0h1.35M480.2 305.9h1.35M486.8 304.7h1.35M493.4 303.6h1.35M502.9 302.0h1.35M509.3 301.1h1.35M515.6 300.1h1.35M521.9 299.2h1.35M528.3 298.3h1.35M534.8 297.4h1.35M541.4 296.5h1.35M551.1 295.1h1.35M557.1 294.4h1.35M562.4 293.7h1.35M568.9 293.0h1.35M577.1 292.3h1.35M584.7 291.8h1.35M590.8 291.5h1.35M597.2 291.3h1.35M603.8 291.1h1.35M613.6 290.9h1.35M620.0 290.8h1.35M626.3 290.8h1.35M632.7 290.8h1.35M639.0 290.8h1.35M648.4 290.9h1.35M654.7 291.0h1.35M661.0 291.1h1.35M667.2 291.3h1.35M675.8 291.7h1.35M403.5 482.1h1.35M399.1 481.4h1.35M394.6 480.6h1.35M391.7 480.1h1.35M387.2 479.2h1.35M382.8 478.2h1.35M379.8 477.6h1.35M375.4 476.5h1.35M371.0 475.3h1.35M366.6 474.1h1.35M363.6 473.3h1.35M359.2 472.1h1.35M354.8 470.7h1.35M351.8 469.7h1.35M347.4 468.0h1.35M344.5 466.8h1.35M340.1 465.0h1.35M335.6 463.0h1.35M332.7 461.6h1.35M328.2 459.4h1.35M325.3 457.8h1.35M322.3 456.0h1.35M317.7 453.0h1.35M314.7 450.9h1.35M311.8 448.8h1.35M309.1 446.6h1.35M305.2 443.1h1.35M302.8 440.6h1.35M299.5 437.0h1.35M297.6 434.7h1.35M295.3 431.5h1.35M293.1 427.4h1.35M291.4 423.4h1.35M290.3 419.4h1.35M289.6 415.6h1.35M294.5 411.5h1.35M295.0 407.5h1.35M295.9 403.7h1.35M297.3 399.4h1.35M298.7 396.2h1.35M301.2 391.7h1.35M303.4 388.2h1.35M306.0 384.8h1.35M307.9 382.5h1.35M311.1 379.1h1.35M314.5 375.6h1.35M316.9 373.4h1.35M320.7 370.2h1.35M323.3 368.1h1.35M326.1 366.1h1.35M330.3 363.1h1.35M333.2 361.2h1.35M336.1 359.4h1.35M340.8 356.7h1.35M344.1 354.8h1.35M347.7 352.7h1.35M351.8 350.5h1.35M356.1 348.2h1.35M358.3 347.0h1.35M362.6 344.8h1.35M366.5 342.9h1.35M370.2 341.2h1.35M373.8 339.8h1.35M377.2 338.5h1.35M380.3 337.3h1.35M384.3 335.7h1.35M388.2 334.2h1.35M392.4 332.6h1.35M395.8 331.2h1.35M399.8 329.6h1.35M404.2 327.9h1.35M409.0 326.1h1.35M414.1 324.3h1.35M419.9 322.4h1.35M423.1 321.4h1.35M433.0 318.4h1.35M439.5 316.5h1.35M397.8 479.5h1.35M393.4 478.7h1.35M390.5 478.1h1.35M386.2 477.2h1.35M381.8 476.2h1.35M377.5 475.1h1.35M374.6 474.3h1.35M370.3 473.1h1.35M365.9 471.9h1.35M361.6 470.7h1.35M358.7 469.8h1.35M354.3 468.2h1.35M350.0 466.6h1.35M347.1 465.4h1.35M342.8 463.5h1.35M339.9 462.2h1.35M335.5 460.1h1.35M332.6 458.7h1.35M328.3 456.2h1.35M325.3 454.4h1.35M320.8 451.4h1.35M317.9 449.3h1.35M315.1 447.2h1.35M311.3 443.8h1.35M308.8 441.5h1.35M306.5 439.1h1.35M303.4 435.5h1.35M301.0 432.3h1.35M299.2 429.2h1.35M297.3 425.3h1.35M295.9 421.3h1.35M295.0 417.5h1.35M299.6 412.4h1.35M300.0 408.6h1.35M301.0 404.0h1.35M302.0 400.9h1.35M303.8 396.6h1.35M305.5 393.3h1.35M307.6 390.0h1.35M310.0 386.6h1.35M312.8 383.2h1.35M315.9 379.8h1.35M319.2 376.5h1.35M321.6 374.3h1.35M325.3 371.2h1.35M327.9 369.1h1.35M331.9 366.1h1.35M334.7 364.2h1.35M337.6 362.3h1.35M341.9 359.6h1.35M345.0 357.8h1.35M348.3 356.0h1.35M351.9 354.0h1.35M355.9 351.8h1.35M360.1 349.5h1.35M364.4 347.3h1.35M366.4 346.2h1.35M370.3 344.3h1.35M373.9 342.7h1.35M377.4 341.3h1.35M382.3 339.4h1.35M385.2 338.3h1.35M389.5 336.6h1.35M393.2 335.1h1.35M397.3 333.6h1.35M400.9 332.1h1.35M405.0 330.5h1.35M409.6 328.7h1.35M414.4 326.9h1.35M419.7 325.2h1.35M425.8 323.2h1.35M429.0 322.2h1.35M435.5 320.3h1.35M438.8 319.3h1.35M444.8 317.6h1.35M450.0 316.3h1.35M456.3 314.9h1.35M466.4 313.2h1.35M477.3 311.2h1.35M486.6 309.5h1.35M496.2 307.8h1.35M505.4 306.3h1.35M514.5 304.9h1.35M523.7 303.6h1.35M532.9 302.3h1.35M542.4 301.0h1.35M551.8 299.7h1.35M562.7 298.3h1.35M572.8 297.3h1.35M581.5 296.6h1.35M593.1 296.1h1.35M602.6 295.8h1.35M612.0 295.6h1.35M621.2 295.5h1.35M630.4 295.5h1.35M639.5 295.6h1.35M393.9 477.0h1.35M389.6 476.1h1.35M386.7 475.5h1.35M382.5 474.4h1.35M378.3 473.3h1.35M374.0 472.2h1.35M369.7 471.0h1.35M366.9 470.2h1.35M362.6 468.8h1.35M358.3 467.3h1.35M354.1 465.7h1.35M351.2 464.5h1.35M347.0 462.7h1.35M342.7 460.7h1.35M339.9 459.4h1.35M335.6 457.2h1.35M332.7 455.6h1.35M328.4 452.8h1.35M325.5 450.8h1.35M322.6 448.8h1.35M318.6 445.6h1.35M316.1 443.4h1.35M312.5 439.9h1.35M310.3 437.5h1.35M307.5 434.2h1.35M305.3 431.0h1.35M303.2 427.1h1.35M301.9 424.2h1.35M300.7 420.4h1.35M299.8 415.8h1.35M304.8 412.6h1.35M305.1 408.8h1.35M306.2 404.3h1.35M307.5 400.2h1.35M308.9 397.1h1.35M311.3 392.7h1.35M313.4 389.4h1.35M315.9 386.1h1.35M318.7 382.8h1.35M321.8 379.5h1.35M324.1 377.3h1.35M327.5 374.1h1.35M330.0 372.1h1.35M333.8 369.1h1.35M336.5 367.1h1.35M340.7 364.3h1.35M343.5 362.5h1.35M347.8 359.9h1.35M350.9 358.1h1.35M354.2 356.3h1.35M358.0 354.2h1.35M362.0 352.0h1.35M366.2 349.8h1.35M368.3 348.7h1.35M372.3 346.7h1.35M375.9 345.0h1.35M379.4 343.5h1.35M384.4 341.5h1.35M387.4 340.4h1.35M391.2 338.9h1.35M394.9 337.4h1.35M399.1 335.8h1.35M404.2 333.8h1.35M408.2 332.2h1.35M412.6 330.5h1.35M417.4 328.7h1.35M419.9 327.9h1.35M425.5 326.1h1.35M441.3 321.3h1.35M383.3 472.7h1.35M379.2 471.5h1.35M375.0 470.4h1.35M370.8 469.2h1.35M368.0 468.3h1.35M363.8 466.9h1.35M359.6 465.4h1.35M355.5 463.7h1.35M352.7 462.5h1.35M348.5 460.6h1.35M344.3 458.6h1.35M341.5 457.2h1.35M337.3 454.9h1.35M334.5 453.1h1.35M330.2 450.2h1.35M327.3 448.2h1.35M323.4 445.1h1.35M321.0 442.9h1.35M317.5 439.5h1.35M315.3 437.2h1.35M312.6 433.9h1.35M310.4 430.8h1.35M308.3 427.0h1.35M306.7 423.2h1.35M305.6 419.4h1.35M314.8 411.4h1.35M315.8 405.8h1.35M317.7 399.9h1.35M320.3 394.8h1.35M323.0 390.6h1.35M327.1 385.3h1.35M331.1 381.0h1.35M335.5 376.9h1.35M339.0 373.9h1.35M343.9 370.1h1.35M349.2 366.4h1.35M353.3 363.8h1.35M359.1 360.5h1.35M364.0 357.7h1.35M369.8 354.5h1.35M373.8 352.4h1.35M379.7 349.4h1.35M384.9 347.0h1.35M389.8 345.0h1.35M395.6 342.8h1.35M400.2 341.0h1.35M405.4 339.0h1.35M412.2 336.3h1.35M418.5 333.8h1.35M425.5 331.3h1.35M430.9 329.6h1.35M439.9 326.8h1.35M446.1 325.0h1.35M454.3 322.7h1.35M462.6 320.8h1.35M477.0 318.2h1.35M371.5 465.2h1.35M364.8 462.6h1.35M359.4 460.3h1.35M355.4 458.5h1.35M350.0 455.8h1.35M344.6 452.7h1.35M339.1 449.1h1.35M335.1 446.2h1.35M330.3 442.1h1.35M326.9 438.8h1.35M323.0 434.4h1.35M319.5 429.5h1.35M316.9 424.0h1.35M315.3 418.6h1.35M325.3 411.1h1.35M326.5 405.5h1.35M328.5 399.8h1.35M331.2 394.8h1.35M334.6 389.7h1.35M338.0 385.7h1.35M341.9 381.6h1.35M346.2 377.7h1.35M350.8 373.9h1.35M355.7 370.3h1.35M360.9 367.0h1.35M364.9 364.6h1.35M370.8 361.2h1.35M376.1 358.3h1.35M381.9 355.2h1.35M385.7 353.2h1.35M346.0 446.0h1.35M341.2 442.2h1.35M336.9 438.0h1.35M333.2 433.8h1.35M330.4 430.0h1.35M327.7 424.7h1.35M325.8 418.6h1.35" stroke="#4a4a4a" stroke-width="1.35" stroke-linecap="butt"/>
<path d="M352.2 337.2 C353.0 336.4 355.1 334.0 357.0 332.6 C358.9 331.2 361.1 329.9 363.3 328.6 C365.5 327.3 367.2 326.4 370.0 325.0 C372.8 323.6 374.4 322.7 380.0 320.5 C385.6 318.3 393.9 314.8 403.3 311.7 C412.8 308.6 427.2 304.2 436.7 301.7 C446.1 299.2 450.6 298.5 460.0 296.7 C469.4 294.9 482.2 292.9 493.3 291.1 C504.4 289.3 517.2 287.5 526.7 286.1 C536.2 284.7 540.6 283.8 550.0 282.6 C559.4 281.4 572.2 279.7 583.3 278.9 C594.4 278.1 605.6 277.9 616.7 277.8 C627.8 277.7 642.4 278.0 650.0 278.4 C657.6 278.8 658.5 279.4 662.2 280.0 C665.9 280.6 668.7 281.2 672.0 282.0 C675.3 282.8 680.5 284.2 682.2 284.6 L682.2 284.7 L650.0 283.9 L616.7 283.9 L583.3 285.0 L560.0 287.2 L526.7 291.7 L493.3 296.7 L460.0 302.6 L436.7 307.2 L403.3 317.2 L380.0 326.1 L370.0 330.0 L352.2 337.2 Z" fill="#fff" stroke="none"/>
<path d="M438 284C432 283.2 428.6 281.6 428.6 279.8C428.8 277.6 433 276 438 275.2C442 274.6 447 274 451 273.8" stroke-width="1"/><path d="M448.7 270.2L466.6 273.8L448.7 277.4L451.6 273.8Z" fill="#111" stroke="#111" stroke-width="0.5"/>
<path d="M275.0 414.4 C274.7 411.2 274.9 408.9 275.6 405.6 C276.3 402.3 277.5 398.3 279.4 394.4 C281.3 390.5 283.9 386.3 287.2 382.2 C290.4 378.1 294.5 373.9 298.9 370.0 C303.2 366.1 308.1 362.4 313.3 358.9 C318.5 355.4 323.5 352.5 330.0 348.9 C336.5 345.3 345.5 340.3 352.2 337.2 C358.9 334.1 365.4 331.9 370.0 330.0 C374.6 328.1 374.4 328.2 380.0 326.1 C385.6 324.0 393.9 320.4 403.3 317.2 C412.8 314.0 427.2 309.6 436.7 307.2 C446.1 304.8 450.6 304.4 460.0 302.6 C469.4 300.9 482.2 298.5 493.3 296.7 C504.4 294.9 515.6 293.3 526.7 291.7 C537.8 290.1 550.6 288.3 560.0 287.2 C569.4 286.1 573.8 285.6 583.3 285.0 C592.8 284.4 605.6 284.1 616.7 283.9 C627.8 283.7 639.1 283.8 650.0 283.9 C660.9 284.0 672.8 284.1 682.2 284.7 C691.7 285.2 698.7 286.3 706.7 287.2 C714.7 288.1 720.6 288.5 730.0 290.0 C739.4 291.5 752.2 293.5 763.3 296.1 C774.4 298.7 787.8 302.9 796.7 305.6 C805.6 308.3 809.5 309.2 816.7 312.4 C823.9 315.6 833.3 320.6 839.8 324.9 C846.3 329.2 851.8 333.8 855.8 338.2 C859.8 342.6 862.0 347.0 863.8 351.6 C865.6 356.2 866.2 361.4 866.4 365.8 C866.5 370.2 866.0 373.8 864.7 378.2 C863.4 382.6 861.4 387.9 858.4 392.4 C855.4 396.8 851.8 400.5 846.9 404.9 C842.0 409.2 835.6 414.1 828.9 418.5 C822.2 422.9 814.1 427.2 806.7 431.1 C799.3 435.0 791.8 438.4 784.4 441.7 C777.0 445.0 769.6 448.2 762.2 451.1 C754.8 454.1 747.0 457.0 740.0 459.4 C733.0 461.8 726.7 463.7 720.0 465.6 C713.3 467.5 706.7 469.3 700.0 471.0 C693.3 472.7 685.9 474.5 680.0 475.8 C674.1 477.1 673.7 477.3 664.4 478.9 C655.1 480.4 634.4 483.6 624.0 485.1 C613.6 486.6 611.0 486.9 602.2 487.9 C593.4 488.9 581.5 490.0 571.1 491.0 C560.7 492.0 547.8 493.1 540.0 493.7 C532.2 494.3 532.2 494.3 524.4 494.4 C516.6 494.5 503.7 494.5 493.3 494.4 C482.9 494.3 472.6 494.3 462.2 493.7 C451.8 493.1 438.1 491.2 431.1 490.5 C424.1 489.8 424.4 489.8 420.0 489.2 C415.6 488.6 409.6 487.7 404.4 486.9 C399.2 486.1 394.1 485.4 388.9 484.5 C383.7 483.6 378.5 482.6 373.3 481.4 C368.1 480.2 363.0 478.9 357.8 477.5 C352.6 476.1 347.4 474.7 342.2 472.9 C337.0 471.1 331.9 469.0 326.7 466.7 C321.5 464.4 316.3 462.0 311.1 458.9 C305.9 455.8 300.2 451.9 295.6 448.0 C291.0 444.1 286.5 439.4 283.5 435.5 C280.5 431.6 278.8 428.1 277.4 424.6 C276.0 421.1 275.3 417.6 275.0 414.4Z" stroke-width="1.3"/>
<path d="M352.2 337.2 C353.0 336.4 355.1 334.0 357.0 332.6 C358.9 331.2 361.1 329.9 363.3 328.6 C365.5 327.3 367.2 326.4 370.0 325.0 C372.8 323.6 374.4 322.7 380.0 320.5 C385.6 318.3 393.9 314.8 403.3 311.7 C412.8 308.6 427.2 304.2 436.7 301.7 C446.1 299.2 450.6 298.5 460.0 296.7 C469.4 294.9 482.2 292.9 493.3 291.1 C504.4 289.3 517.2 287.5 526.7 286.1 C536.2 284.7 540.6 283.8 550.0 282.6 C559.4 281.4 572.2 279.7 583.3 278.9 C594.4 278.1 605.6 277.9 616.7 277.8 C627.8 277.7 642.4 278.0 650.0 278.4 C657.6 278.8 658.5 279.4 662.2 280.0 C665.9 280.6 668.7 281.2 672.0 282.0 C675.3 282.8 680.5 284.2 682.2 284.6" stroke-width="1.3"/>
<path d="M588.0 215.4 C589.3 214.8 593.3 213.2 596.0 211.5 C598.7 209.8 601.2 207.5 604.0 205.5 C606.8 203.5 609.3 201.1 613.0 199.5 C616.7 197.9 620.7 196.7 626.0 196.0 C631.3 195.3 638.5 194.9 645.0 195.2 C651.5 195.5 659.2 196.4 665.0 198.0 C670.8 199.6 676.1 202.3 680.0 205.0 C683.9 207.7 687.2 211.2 688.6 214.0 C690.0 216.8 689.7 219.3 688.6 222.0 C687.5 224.7 685.4 227.6 682.0 230.0 C678.6 232.4 673.3 234.9 668.0 236.5 C662.7 238.1 656.3 239.0 650.0 239.4 C643.7 239.8 636.3 239.7 630.0 239.2 C623.7 238.7 617.0 237.2 612.0 236.4 C607.0 235.6 604.0 234.9 600.0 234.6 C596.0 234.3 590.0 234.6 588.0 234.6" fill="#fff" stroke-width="1.55"/>
<g stroke-width="1.1"><path d="M588 215.4L566 221C558 223 552 226 551 229.6C551.4 233 556 235.4 562 235.6L588 234.6Z" fill="#fff" stroke-width="1.3"/><path d="M551.6 228.6C556 225.6 561 225 565 227.2" stroke-width="1"/><path d="M588 215.4C585.6 221 585.6 229 588 234.6" stroke-width="1.2"/><path d="M582.6 216.8C580.2 222 580.2 229.6 582.6 234.8M578 218C575.6 223 575.6 230 578 235M573.6 219.2C571.4 223.6 571.4 230.4 573.4 235.2M569.4 220.2C567.4 224.4 567.4 230.8 569.2 235.4" stroke-width="1.6"/><path d="M565.4 221.2C563.6 225 563.6 231.2 565.2 235.5" stroke-width="1"/></g>
<path d="M576.0 203.0V241.5" stroke-width="1.05" stroke-dasharray="2.3 1.3" stroke-linecap="butt"/>
<ellipse cx="643.4" cy="220.7" rx="11.0" ry="5.0" fill="#fff" stroke="#111" stroke-width="1.1"/>
<path d="M646 224V217.4L638.6 222.2H649.4" stroke-width="1"/>
<path d="M673.4 221.6C676 227 680 231 684.5 232.6C687 233.4 689.4 233.2 691.2 232" stroke-width="1.2"/>
<path d="M668.8 215.6L677.8 220.6L673.4 221.5L671.5 225.5Z" fill="#111" stroke="#111" stroke-width="0.5"/>
<ellipse cx="732" cy="143.8" rx="90" ry="42.8" fill="#fff" stroke-width="1.2"/>
<g stroke-width="1.2"><path d="M691 109.8V126M697 108.6V126M730 105.8V126M735.6 105.6V126"/><path d="M691 157.4V179.4M697 157.4V180.4M730 157.4V184.6M735.6 157.4V185"/><rect x="678.9" y="126.2" width="69.7" height="31" fill="#fff" stroke-width="1.5"/></g>
<ellipse cx="689.9" cy="134.5" rx="6.8" ry="3.8" fill="#fff" stroke-width="2.2"/><path d="M685.7 137.1L694.1 131.9" stroke-width="1.6"/>
<ellipse cx="689.9" cy="149.4" rx="6.8" ry="3.8" fill="#fff" stroke-width="2.2"/><path d="M685.7 152.0L694.1 146.8" stroke-width="1.6"/>
<ellipse cx="737.6" cy="134.5" rx="6.8" ry="3.8" fill="#fff" stroke-width="2.2"/><path d="M733.4 137.1L741.8 131.9" stroke-width="1.6"/>
<ellipse cx="737.6" cy="149.4" rx="6.8" ry="3.8" fill="#fff" stroke-width="2.2"/><path d="M733.4 152.0L741.8 146.8" stroke-width="1.6"/>
<ellipse cx="714.4" cy="141.4" rx="9.4" ry="5.2" fill="#fff" stroke-width="1.4"/>
<ellipse cx="714.4" cy="141.4" rx="6.8" ry="3.8" fill="#fff" stroke-width="1.6"/><path d="M710.2 144.0L718.6 138.8" stroke-width="1.6"/>
<path d="M670.8 114.6V123.8H678.4M670.8 158.4V167.6H678.4" stroke-width="1.4" stroke-linecap="butt" stroke-linejoin="miter"/>
<path d="M748 124.2V114.6L758.8 123.8V114.2M748 167.8V158.2L758.8 167.4V157.8" stroke-width="1.4" stroke-linecap="butt" stroke-linejoin="miter"/>
<ellipse cx="661.8" cy="141.3" rx="11.0" ry="6.0" fill="#fff" stroke="#111" stroke-width="1.1"/>
<path d="M655.6 142C655.2 138.6 659 136.8 662.6 137.4C666.6 138.2 666.8 140.6 663.4 142.4L655.4 146H668" stroke-width="1" transform="rotate(-8 661.8 141.3)"/>
<ellipse cx="768" cy="146.7" rx="10.8" ry="5.7" stroke-width="1.1"/>
<path d="M768 141.6V146M761.6 146H774.4M763.6 148H772.4M765.8 150H770.2" stroke-width="1.2"/>
<path d="M768 152.4V169.5" stroke-width="1.2"/>
<g stroke-width="1.2"><path d="M780.8 152.8L793.4 139.4L818.6 145.4L808.2 159.4Z" fill="#fff" stroke-width="1.3"/><path d="M783.6 150.6L791.4 142.2" stroke-width="2.4"/><path d="M811.8 157L817.6 148.6" stroke-width="2.4"/><path d="M796 141.6L815 146.2" stroke-width="1"/><path d="M793.4 139.4C796 133.6 799.4 130 803 128.4C805 127.6 807 127.4 809 127.6" stroke-width="1.4"/><path d="M799.6 140.8C801.6 136.4 804.4 133.4 808.6 131.6" stroke-width="1.1"/><ellipse cx="801.5" cy="150.3" rx="8.5" ry="4.4" fill="#fff" stroke-width="1.4"/><path d="M801.5 146.6V154M795 150.3H808M796.8 148.2H806.2M796.8 152.4H806.2" stroke-width="0.9"/></g>
<path d="M795.6 156.4C787 162.6 777 167 767 169.8C758 172.2 752 175.4 747.6 179.6" stroke-width="1.2"/>
<path d="M798.4 158.6C790 165 780 169.6 770 172.4C761.6 174.8 756.6 178 753.2 181.6" stroke-width="1.2"/>
<path d="M797.4 157.2C794.6 159.4 791.8 161.2 788.8 162.8" stroke-width="3.6" stroke-linecap="butt"/>
<path d="M776.4 169.2C773 170.4 770 171.2 766.8 171.9" stroke-width="3.4" stroke-linecap="butt"/>
<path d="M697 177.6L836.8 200.6M733.4 174.4L816 190.2M767 172.4L798.4 179" stroke-width="1"/>
<path d="M795.4 172.8C796.8 182 802.0 196 793.2 208.2" stroke-width="1.5"/><path d="M801.0 172.8C802.4 182 807.6 196 798.8 208.2" stroke-width="1.5"/><path d="M795.4 172.8H801.0M793.2 208.2H798.8" stroke-width="1.3"/>
<path d="M812.4 172.8C813.8 182 819.0 196 810.2 208.2" stroke-width="1.5"/><path d="M818.8 172.8C820.2 182 825.4 196 816.6 208.2" stroke-width="1.5"/><path d="M812.4 172.8H818.8M810.2 208.2H816.6" stroke-width="1.3"/>
<path d="M830.4 172.8C831.8 182 837.0 196 828.2 208.2" stroke-width="1.5"/><path d="M838.0 172.8C839.4 182 844.6 196 835.8 208.2" stroke-width="1.5"/><path d="M830.4 172.8H838.0M828.2 208.2H835.8" stroke-width="1.3"/>
<ellipse cx="751.2" cy="266.0" rx="10.2" ry="5.1" fill="#fff" stroke="#111" stroke-width="1.5"/><text transform="translate(751.20 269.20) scale(1.300 1)" font-family="Liberation Serif" font-size="9.4" font-weight="bold" fill="#111" stroke="none" text-anchor="middle">B5</text>
<path d="M714 273.2C733 273.6 754 277.6 771.6 285" stroke-width="1"/>
<path d="M700.4 273.4L717 269.4L713.6 273.4L717 277.4Z" fill="#111" stroke="#111" stroke-width="0.5"/>
<ellipse cx="220.6" cy="372.8" rx="11.4" ry="5.6" fill="#fff" stroke="#111" stroke-width="1.4"/><text transform="translate(220.60 376.62) scale(2.300 1)" font-family="Liberation Serif" font-size="11.4" fill="#111" stroke="none" text-anchor="middle">6</text>
<path d="M250.2 366C246.4 376 247.4 387 252.8 397" stroke-width="1.5"/>
<path d="M253.9 360.2L242.2 367.6L250 366.8L256.4 369.6Z" fill="#111" stroke="#111" stroke-width="0.5"/>
<g stroke-width="1.2"><rect x="78.4" y="244.6" width="157.2" height="70.8" stroke-width="1.3"/><path d="M120 244.6V248.4M142.6 244.6V253" stroke-width="1.2"/><path d="M120 248.4L112.6 251.8V255.6L118.4 260.4H137.2L142.8 256V251" fill="none" stroke-width="1.5"/><path d="M112.6 251H120" stroke-width="1.1"/><ellipse cx="127.2" cy="257" rx="9.2" ry="2.4" stroke-width="1.7"/><path d="M118.4 256.4V260M136.8 256.4V260" stroke-width="0.9"/><ellipse cx="127.2" cy="268" rx="15" ry="3.8" stroke-width="2"/><ellipse cx="127.2" cy="268" rx="10" ry="2" stroke-width="1.3"/><path d="M127.4 252V276" stroke-width="1.1"/><rect x="121" y="275.4" width="15" height="20.4" fill="#fff" stroke-width="1.2"/><path d="M121 276.6H136" stroke-width="0.9"/><path d="M121 278.2H136" stroke-width="0.9"/><path d="M121 279.9H136" stroke-width="0.9"/><path d="M121 281.6H136" stroke-width="0.9"/><path d="M121 283.2H136" stroke-width="0.9"/><path d="M121 284.9H136" stroke-width="0.9"/><path d="M121 286.5H136" stroke-width="0.9"/><path d="M121 288.2H136" stroke-width="0.9"/><path d="M121 289.8H136" stroke-width="0.9"/><path d="M121 291.5H136" stroke-width="0.9"/><path d="M121 293.1H136" stroke-width="0.9"/><path d="M121 294.8H136" stroke-width="0.9"/><path d="M121 295.8V315.4M136 295.8V315.4" stroke-width="1.3"/><path d="M121 281.4L116 281.8L112.4 284.2L116 286.8L121 287.2M136 281.4L140 281.8L143.6 284.2L140 286.8L136 287.2" stroke-width="1.4"/></g>
<ellipse cx="212.4" cy="257.4" rx="15.4" ry="7.0" fill="#fff" stroke="#111" stroke-width="1.4"/><text transform="translate(212.40 262.26) scale(1.277 1)" font-family="Liberation Serif" font-size="13.5" fill="#111" stroke="none" text-anchor="middle">B3</text>
<text transform="translate(91.60 272.00) scale(1.900 1)" font-family="Liberation Serif" font-size="11.4" fill="#111" text-anchor="middle" stroke="#111" stroke-width="0.25">a</text>
<text transform="translate(95.00 303.60) scale(1.800 1)" font-family="Liberation Serif" font-size="10.6" fill="#111" text-anchor="middle" stroke="#111" stroke-width="0.25">b</text>
<text transform="translate(155.40 295.90) scale(2.000 1)" font-family="Liberation Serif" font-size="10.8" fill="#111" text-anchor="middle" stroke="#111" stroke-width="0.25">c</text>
<path d="M104.0 266.5V273.0" stroke-width="1.6"/>
<path d="M104.0 260.0L99.8 267.5L108.2 267.5Z" fill="#111" stroke="#111" stroke-width="0.5"/>
<path d="M110.0 297.5V305.0" stroke-width="1.6"/>
<path d="M110.0 291.0L105.8 298.5L114.2 298.5Z" fill="#111" stroke="#111" stroke-width="0.5"/>
<path d="M145.6 279.4C151 279.6 155.4 281.4 155 284C154.6 286.4 151 288 147 288.8" stroke-width="1.1"/>
<path d="M151.4 281.6C152.6 283.6 151.6 285.6 149 287" stroke-width="1"/>
<path d="M142.6 289.8L150 285.4L149.4 288L151.4 290.6Z" fill="#111" stroke="#111" stroke-width="0.5"/>
<path d="M158 279.4C160 277.4 166 276.2 174 276C182 275.8 188 276.6 194 278.6C202 281.2 210 281.8 218 281.8C223 281.8 227 281.6 231 281.6" stroke-width="1.3"/>
<path d="M231 289C224 289.2 218 288.8 212 288.4C204 288 198 289.6 190 290.2C182 290.8 172 290.4 164.4 288.6C163.8 287.6 164 286.8 164.8 286.4C170 287.2 176 287.4 180 286.6C183.6 285.6 183.8 283.2 180.6 282.4C176 281.4 166 281.8 158.6 282.6" stroke-width="1.3"/>
<path d="M158 279.4C157.6 280.6 157.8 281.8 158.6 282.6" stroke-width="1.2"/>
<path d="M119 313.6C113.6 312.8 111 311.4 111 309.6C111.2 307.6 115 306.2 120 305.6C125 305.1 130 304.9 134 305" stroke-width="1.2"/>
<path d="M145.8 305.2L131.2 302.6L134.2 305.3L131.6 308.4Z" fill="#111" stroke="#111" stroke-width="0.5"/>
<path d="M213.4 606.5H110.5V511.4H358.6V606.5H257.5" stroke-width="1.3"/>
<ellipse cx="332.5" cy="532.4" rx="15.0" ry="6.3" fill="#fff" stroke="#111" stroke-width="1.4"/><text transform="translate(332.50 537.08) scale(1.260 1)" font-family="Liberation Serif" font-size="13.0" fill="#111" stroke="none" text-anchor="middle">B5</text>
<path d="M166 540.5H296" stroke-width="1.1"/>
<path d="M188.7 532.5V546.0" stroke-width="1.6"/>
<path d="M188.7 524.9L181.7 533.5L195.7 533.5Z" fill="#111" stroke="#111" stroke-width="0.5"/>
<path d="M228.2 529.2V587.1H236.2V529.2M228.2 582.4H236.2" stroke-width="1.4"/>
<path d="M166.2 540.6 C165.9 541.0 166.3 542.5 164.6 543.2 C162.9 543.9 159.3 544.4 156.0 545.0 C152.7 545.6 149.8 545.3 145.0 546.8 C140.2 548.3 131.8 551.0 127.0 554.0 C122.2 557.0 118.5 561.5 116.5 564.5 C114.5 567.5 114.5 569.2 115.0 572.0 C115.5 574.8 116.5 578.0 119.5 581.0 C122.5 584.0 127.9 587.8 133.0 590.0 C138.1 592.2 143.7 593.1 150.0 594.2 C156.3 595.3 165.1 596.3 171.0 596.4 C176.9 596.5 180.9 595.6 185.2 594.6 C189.4 593.6 193.4 591.9 196.5 590.4 C199.6 588.9 201.6 586.8 203.5 585.6 C205.4 584.4 206.4 583.7 208.0 583.2 C209.6 582.7 205.5 582.5 213.0 582.4 C220.5 582.3 245.6 582.2 253.0 582.4 C260.4 582.6 256.1 583.0 257.5 583.6 C258.9 584.2 259.2 584.7 261.3 586.1 C263.4 587.5 265.9 590.7 270.0 592.3 C274.1 593.9 279.3 595.1 286.0 595.8 C292.7 596.4 302.5 597.1 310.0 596.2 C317.5 595.3 325.2 593.2 331.0 590.4 C336.8 587.6 341.5 582.8 344.5 579.5 C347.5 576.2 348.8 573.5 349.0 570.5 C349.2 567.5 348.5 564.5 346.0 561.5 C343.5 558.5 339.0 555.0 334.0 552.5 C329.0 550.0 320.8 547.8 316.0 546.5 C311.2 545.2 308.2 545.1 305.0 544.6 C301.8 544.1 298.6 543.9 297.0 543.2 C295.4 542.5 295.8 541.0 295.6 540.6" stroke-width="3" stroke="#111"/>
<path d="M166.2 540.6 C165.9 541.0 166.3 542.5 164.6 543.2 C162.9 543.9 159.3 544.4 156.0 545.0 C152.7 545.6 149.8 545.3 145.0 546.8 C140.2 548.3 131.8 551.0 127.0 554.0 C122.2 557.0 118.5 561.5 116.5 564.5 C114.5 567.5 114.5 569.2 115.0 572.0 C115.5 574.8 116.5 578.0 119.5 581.0 C122.5 584.0 127.9 587.8 133.0 590.0 C138.1 592.2 143.7 593.1 150.0 594.2 C156.3 595.3 165.1 596.3 171.0 596.4 C176.9 596.5 180.9 595.6 185.2 594.6 C189.4 593.6 193.4 591.9 196.5 590.4 C199.6 588.9 201.6 586.8 203.5 585.6 C205.4 584.4 206.4 583.7 208.0 583.2 C209.6 582.7 205.5 582.5 213.0 582.4 C220.5 582.3 245.6 582.2 253.0 582.4 C260.4 582.6 256.1 583.0 257.5 583.6 C258.9 584.2 259.2 584.7 261.3 586.1 C263.4 587.5 265.9 590.7 270.0 592.3 C274.1 593.9 279.3 595.1 286.0 595.8 C292.7 596.4 302.5 597.1 310.0 596.2 C317.5 595.3 325.2 593.2 331.0 590.4 C336.8 587.6 341.5 582.8 344.5 579.5 C347.5 576.2 348.8 573.5 349.0 570.5 C349.2 567.5 348.5 564.5 346.0 561.5 C343.5 558.5 339.0 555.0 334.0 552.5 C329.0 550.0 320.8 547.8 316.0 546.5 C311.2 545.2 308.2 545.1 305.0 544.6 C301.8 544.1 298.6 543.9 297.0 543.2 C295.4 542.5 295.8 541.0 295.6 540.6" stroke-width="1" stroke="#fff" stroke-dasharray="1 1.4"/>
<path d="M246.5 572.6V579M246.5 606.5V591" stroke-width="1.3"/><path d="M238 587.2H252.8" stroke="#777" stroke-width="1"/>
<path d="M246.5 582.6L244.4 577.4H248.6ZM246.5 588.2L244.4 593.6H248.6Z" fill="#111" stroke="#111" stroke-width="0.5"/>
<rect x="251.6" y="598.8" width="5.8" height="7.4" fill="#333" stroke="none"/>
<path d="M503.3 460.4 C503.5 459.8 503.8 458.0 504.4 457.0 C505.0 456.0 503.6 456.6 506.7 454.6 C509.8 452.6 515.0 448.6 523.3 445.0 C531.6 441.4 545.6 436.4 556.7 433.3 C567.8 430.2 576.1 428.9 590.0 426.7 C603.9 424.5 626.1 421.5 640.0 420.0 C653.9 418.5 662.2 418.0 673.3 417.7 C684.4 417.4 701.1 418.2 706.7 418.3" stroke-width="1.1"/>
<path d="M503.3 460.4C503.6 456 507 452.6 512 450" stroke-width="1.8"/>
<path d="M505.0 454.4h1.2M508.8 451.4h1.2M512.6 449.2h1.2M516.4 447.0h1.2M520.2 444.8h1.2M524.0 442.8h1.2M527.8 441.4h1.2M531.6 440.1h1.2M535.4 438.8h1.2M539.2 437.4h1.2M543.0 436.1h1.2M546.8 434.8h1.2M550.6 433.4h1.2M554.4 432.1h1.2M558.2 431.0h1.2M562.0 430.2h1.2M565.8 429.5h1.2M569.6 428.7h1.2M573.4 428.0h1.2M577.2 427.2h1.2M581.0 426.5h1.2M584.8 425.7h1.2M588.6 425.0h1.2M592.4 424.4h1.2M596.2 423.9h1.2M600.0 423.4h1.2M603.8 422.9h1.2M607.6 422.3h1.2M611.4 421.8h1.2M615.2 421.3h1.2M619.0 420.8h1.2M622.8 420.3h1.2M626.6 419.8h1.2M630.4 419.3h1.2M634.2 418.8h1.2M638.0 418.3h1.2M641.8 417.9h1.2M645.6 417.6h1.2M649.4 417.4h1.2M653.2 417.1h1.2M657.0 416.8h1.2M660.8 416.6h1.2M664.6 416.3h1.2M668.4 416.0h1.2M672.2 415.8h1.2M676.0 415.7h1.2M679.8 415.8h1.2M683.6 415.9h1.2M687.4 416.0h1.2M691.2 416.0h1.2M695.0 416.1h1.2M698.8 416.2h1.2M702.6 416.2h1.2M706.4 416.3h1.2M506.9 449.5h1.2M510.7 447.3h1.2M514.5 445.1h1.2M518.3 442.9h1.2M522.1 440.7h1.2M529.7 437.8h1.2M533.5 436.4h1.2M537.3 435.1h1.2M541.1 433.8h1.2M544.9 432.4h1.2M548.7 431.1h1.2M552.5 429.8h1.2M556.3 428.4h1.2M560.1 427.6h1.2M563.9 426.9h1.2M567.7 426.1h1.2M571.5 425.4h1.2M575.3 424.6h1.2M579.1 423.9h1.2M582.9 423.1h1.2M586.7 422.4h1.2M590.5 421.6h1.2M594.3 421.1h1.2M598.1 420.6h1.2M601.9 420.1h1.2M605.7 419.6h1.2M609.5 419.1h1.2M613.3 418.6h1.2M617.1 418.1h1.2M620.9 417.6h1.2M624.7 417.1h1.2M628.5 416.5h1.2M636.1 415.5h1.2M639.9 415.0h1.2M647.5 414.5h1.2M651.3 414.2h1.2M655.1 414.0h1.2M658.9 413.7h1.2M662.7 413.4h1.2M666.5 413.2h1.2M674.1 412.7h1.2M681.7 412.9h1.2M685.5 412.9h1.2M689.3 413.0h1.2M693.1 413.1h1.2M696.9 413.1h1.2M700.7 413.2h1.2M704.5 413.3h1.2M535.4 432.8h1.2M550.6 427.4h1.2M562.0 424.2h1.2M569.6 422.7h1.2M573.4 422.0h1.2M581.0 420.5h1.2M584.8 419.7h1.2M588.6 419.0h1.2M592.4 418.4h1.2M596.2 417.9h1.2M600.0 417.4h1.2M603.8 416.9h1.2M607.6 416.3h1.2M615.2 415.3h1.2M626.6 413.8h1.2M630.4 413.3h1.2M634.2 412.8h1.2M645.6 411.6h1.2M653.2 411.1h1.2M657.0 410.8h1.2M664.6 410.3h1.2M668.4 410.0h1.2M672.2 409.8h1.2M679.8 409.8h1.2M683.6 409.9h1.2M695.0 410.1h1.2M698.8 410.2h1.2M706.4 410.3h1.2M506.0 462.0h1.2M509.0 459.0h1.2M512.5 456.5h1.2M516.0 454.0h1.2M520.0 452.0h1.2M508.5 464.5h1.2M513.0 460.5h1.2" stroke="#444" stroke-width="1.2" stroke-linecap="butt"/>
<path d="M685.1 414.9h1.2M687.3 414.9h1.2M689.5 414.9h1.2M691.7 414.9h1.2M696.1 414.9h1.2M698.3 414.9h1.2M702.7 414.9h1.2M709.3 414.9h1.2M711.5 414.9h1.2M666.4 416.8h1.3M668.6 416.8h1.3M670.8 416.8h1.3M673.0 416.8h1.3M675.2 416.8h1.3M677.4 416.8h1.3M679.6 416.8h1.3M681.8 416.8h1.3M684.0 416.8h1.3M686.2 416.8h1.3M688.4 416.8h1.3M690.6 416.8h1.3M692.8 416.8h1.3M695.0 416.8h1.3M697.2 416.8h1.3M699.4 416.8h1.3M701.6 416.8h1.3M703.8 416.8h1.3M706.0 416.8h1.3M708.2 416.8h1.3M710.4 416.8h1.3M712.6 416.8h1.3M717.0 416.8h1.2M669.7 418.7h1.3M671.9 418.7h1.3M674.1 418.7h1.3M676.3 418.7h1.3M678.5 418.7h1.3M680.7 418.7h1.3M682.9 418.7h1.3M685.1 418.7h1.3M687.3 418.7h1.3M689.5 418.7h1.3M691.7 418.7h1.3M693.9 418.7h1.3M696.1 418.7h1.3M698.3 418.7h1.3M700.5 418.7h1.3M702.7 418.7h1.3M704.9 418.7h1.3M707.1 418.7h1.3M709.3 418.7h1.3M711.5 418.7h1.3M713.7 418.7h1.3M715.9 418.7h1.3M718.1 418.7h1.2M668.6 420.6h1.2M670.8 420.6h1.3M673.0 420.6h1.3M675.2 420.6h1.3M677.4 420.6h1.3M679.6 420.6h1.3M681.8 420.6h1.3M684.0 420.6h1.3M686.2 420.6h1.3M688.4 420.6h1.3M690.6 420.6h1.3M692.8 420.6h1.3M695.0 420.6h1.3M697.2 420.6h1.3M699.4 420.6h1.3M701.6 420.6h1.3M703.8 420.6h1.3M706.0 420.6h1.3M708.2 420.6h1.3M710.4 420.6h1.3M712.6 420.6h1.3M714.8 420.6h1.3M717.0 420.6h1.3M719.2 420.6h1.3M721.4 420.6h1.2M723.6 420.6h1.2M671.9 422.5h1.3M674.1 422.5h1.3M676.3 422.5h1.3M678.5 422.5h1.3M680.7 422.5h1.3M682.9 422.5h1.3M685.1 422.5h1.3M687.3 422.5h1.3M689.5 422.5h1.3M691.7 422.5h1.3M693.9 422.5h1.3M696.1 422.5h1.3M698.3 422.5h1.3M700.5 422.5h1.3M702.7 422.5h1.3M704.9 422.5h1.3M707.1 422.5h1.3M709.3 422.5h1.3M711.5 422.5h1.3M713.7 422.5h1.3M715.9 422.5h1.3M718.1 422.5h1.3M720.3 422.5h1.2M722.5 422.5h1.2M668.6 424.4h1.2M670.8 424.4h1.2M673.0 424.4h1.3M675.2 424.4h1.3M677.4 424.4h1.3M679.6 424.4h1.3M681.8 424.4h1.3M684.0 424.4h1.3M686.2 424.4h1.3M688.4 424.4h1.3M690.6 424.4h1.3M692.8 424.4h1.3M695.0 424.4h1.3M697.2 424.4h1.3M699.4 424.4h1.3M701.6 424.4h1.3M703.8 424.4h1.3M706.0 424.4h1.3M708.2 424.4h1.3M710.4 424.4h1.3M712.6 424.4h1.3M714.8 424.4h1.3M717.0 424.4h1.3M721.4 424.4h1.2M728.0 424.4h1.2M665.3 426.3h1.2M674.1 426.3h1.3M676.3 426.3h1.3M678.5 426.3h1.3M680.7 426.3h1.3M682.9 426.3h1.3M685.1 426.3h1.3M687.3 426.3h1.3M689.5 426.3h1.3M691.7 426.3h1.3M693.9 426.3h1.3M696.1 426.3h1.3M698.3 426.3h1.3M700.5 426.3h1.3M702.7 426.3h1.3M704.9 426.3h1.3M707.1 426.3h1.3M709.3 426.3h1.3M711.5 426.3h1.3M713.7 426.3h1.3M715.9 426.3h1.3M718.1 426.3h1.2M720.3 426.3h1.2M722.5 426.3h1.2M726.9 426.3h1.2M666.4 428.2h1.2M675.2 428.2h1.3M677.4 428.2h1.3M679.6 428.2h1.3M681.8 428.2h1.3M684.0 428.2h1.3M686.2 428.2h1.3M688.4 428.2h1.3M690.6 428.2h1.3M692.8 428.2h1.3M695.0 428.2h1.3M697.2 428.2h1.3M699.4 428.2h1.3M701.6 428.2h1.3M703.8 428.2h1.3M706.0 428.2h1.3M708.2 428.2h1.3M710.4 428.2h1.3M714.8 428.2h1.2M717.0 428.2h1.2M669.7 430.1h1.2M680.7 430.1h1.2M682.9 430.1h1.2M685.1 430.1h1.2M687.3 430.1h1.2M691.7 430.1h1.2M696.1 430.1h1.2M698.3 430.1h1.3M700.5 430.1h1.3M702.7 430.1h1.3M718.1 430.1h1.2M722.5 430.1h1.2M724.7 430.1h1.2M679.6 432.0h1.2M681.8 432.0h1.2M690.6 432.0h1.2M692.8 432.0h1.2M699.4 432.0h1.2M710.4 432.0h1.2M717.0 432.0h1.2M719.2 432.0h1.2M721.4 432.0h1.2M680.7 433.9h1.2M682.9 433.9h1.2M685.1 433.9h1.2M687.3 433.9h1.2M689.5 433.9h1.2M696.1 433.9h1.2M700.5 433.9h1.2M702.7 433.9h1.2M704.9 433.9h1.2M711.5 433.9h1.2M713.7 433.9h1.2M715.9 433.9h1.2M718.1 433.9h1.2M681.8 435.8h1.2M684.0 435.8h1.2M686.2 435.8h1.2M701.6 435.8h1.2M714.8 435.8h1.2M691.7 437.7h1.2M702.7 437.7h1.2" stroke="#333" stroke-width="1.25" stroke-linecap="butt"/>
<path d="M459.0 462.0h1.1M461.4 459.6h1.1M463.8 457.2h1.1M466.2 454.8h1.1M468.6 452.6h1.1M461.0 464.4h1.1M463.4 462.0h1.1M465.8 459.6h1.1M468.2 457.2h1.1M470.6 455.0h1.1M463.4 466.6h1.1M465.8 464.2h1.1M468.2 461.8h1.1M470.6 459.4h1.1M458.0 465.0h1.1" stroke="#333" stroke-width="1.1" stroke-linecap="butt"/>
<ellipse cx="601.6" cy="429" rx="13.2" ry="4" fill="#fff" stroke-width="1"/>
<ellipse cx="615.4" cy="446.8" rx="35.4" ry="10.4" fill="#fff" stroke-width="1.8" transform="rotate(-2 615.4 446.8)"/>
<ellipse cx="615.4" cy="446.8" rx="10.4" ry="3.1" stroke-width="1.7"/>
<ellipse cx="628.6" cy="465.8" rx="12.4" ry="3.9" fill="#fff" stroke-width="3.3"/>
<path d="M601.8 428.6L633.6 473.4" stroke-width="1.4"/>
<ellipse cx="622.6" cy="482.2" rx="9.6" ry="4.2" fill="#fff" stroke-width="1.1"/>
<g transform="rotate(-5 644 488)"><path d="M626.6 485.6C628 478.2 660 478.2 661.4 485.6V490.6H626.6Z" fill="#fff" stroke-width="1.3"/><ellipse cx="644" cy="490.6" rx="17.4" ry="4.7" fill="#fff" stroke-width="1.3"/></g>
<path d="M638.2 479.0L629.3 473.7L633.6 472.4L636.2 468.8Z" fill="#111" stroke="#111" stroke-width="0.5"/>
<path d="M666.8 443.4L658.1 432.3" stroke-width="1.7"/>
<path d="M655.0 428.4L665.8 434.5L661.2 436.3L658.4 440.4Z" fill="#111" stroke="#111" stroke-width="0.5"/>
<path d="M666.8 468.4L656.6 456.2" stroke-width="1.7"/>
<path d="M653.4 452.4L664.4 458.2L659.8 460.1L657.1 464.3Z" fill="#111" stroke="#111" stroke-width="0.5"/>
<path d="M682.0 491.8L674.5 480.0" stroke-width="1.7"/>
<path d="M671.8 475.8L682.0 482.9L677.2 484.2L674.0 488.1Z" fill="#111" stroke="#111" stroke-width="0.5"/>
<ellipse cx="684.1" cy="434.5" rx="11.1" ry="5.7" stroke-width="1.4"/>
<path d="M678.2 431.4H690L682 438.4" stroke-width="1.3"/>
<ellipse cx="685.9" cy="456.6" rx="10.9" ry="5.4" fill="#fff" stroke="#111" stroke-width="1.4"/><text transform="translate(685.90 460.35) scale(2.350 1)" font-family="Liberation Serif" font-size="11.2" fill="#111" stroke="none" text-anchor="middle">8</text>
<ellipse cx="703.0" cy="479.1" rx="10.9" ry="5.2" fill="#fff" stroke="#111" stroke-width="1.4"/><text transform="translate(703.00 482.85) scale(2.350 1)" font-family="Liberation Serif" font-size="11.2" fill="#111" stroke="none" text-anchor="middle">9</text>
</svg>
</body></html>
